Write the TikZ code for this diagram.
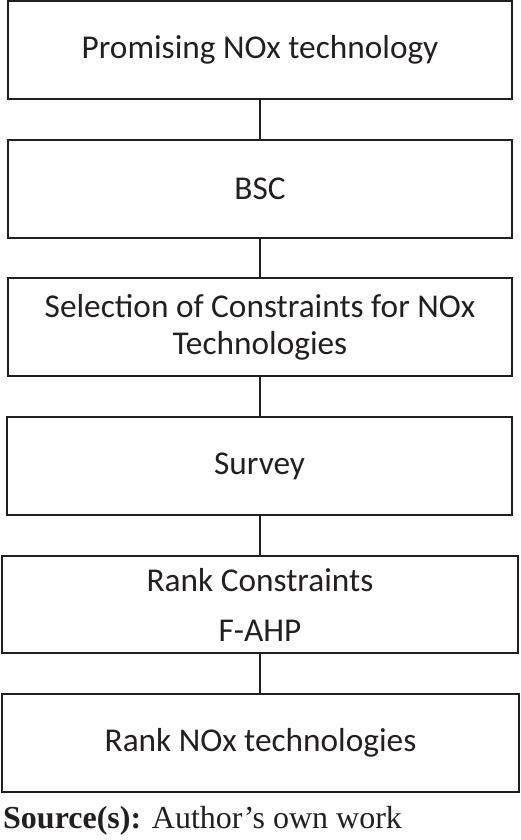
\documentclass[tikz,border=0pt]{standalone}
\usepackage{fontspec}
\setmainfont{Carlito}
\newfontfamily\srcfont{Liberation Serif}
\definecolor{inkgray}{HTML}{231F20}
\begin{document}
\begin{tikzpicture}[x=1pt, y=-1pt,
    stepbox/.style={draw=inkgray, line width=2.2pt, text=inkgray, align=center,
        inner sep=0pt, outer sep=0pt, font=\fontsize{33.3}{37}\selectfont},
    link/.style={draw=inkgray, line width=2pt}]

% Canvas
\useasboundingbox (0,0) rectangle (520,840);

% Process boxes
\node[stepbox, minimum width=504pt, minimum height=98pt] (tech) at (260,50) {Promising NOx technology};
\node[stepbox, minimum width=504pt, minimum height=98pt] (bsc) at (260,189) {BSC};
\node[stepbox, minimum width=504pt, minimum height=98pt] (select) at (260,327) {Selection of Constraints for NOx\\Technologies};
\node[stepbox, minimum width=505pt, minimum height=98pt] (survey) at (259.5,466) {Survey};
\node[stepbox, minimum width=516pt, minimum height=97pt] (rankc) at (260,604.5) {Rank Constraints\\[13pt]F-AHP};
\node[stepbox, minimum width=517pt, minimum height=98pt] (rankt) at (260.5,743) {Rank NOx technologies};

% Connectors
\draw[link] (tech) -- (bsc);
\draw[link] (bsc) -- (select);
\draw[link] (select.south) -- (survey.north -| select.south);
\draw[link] (survey.south -| tech.south) -- (rankc.north -| tech.south);
\draw[link] (rankc.south -| tech.south) -- (rankt.north -| tech.south);

% Source note
\node[anchor=base west, inner sep=0pt, text=inkgray, font=\srcfont\fontsize{32}{38}\selectfont] (note) at (3,828) {\textbf{Source(s):} Author’s own work};

\end{tikzpicture}
\end{document}
